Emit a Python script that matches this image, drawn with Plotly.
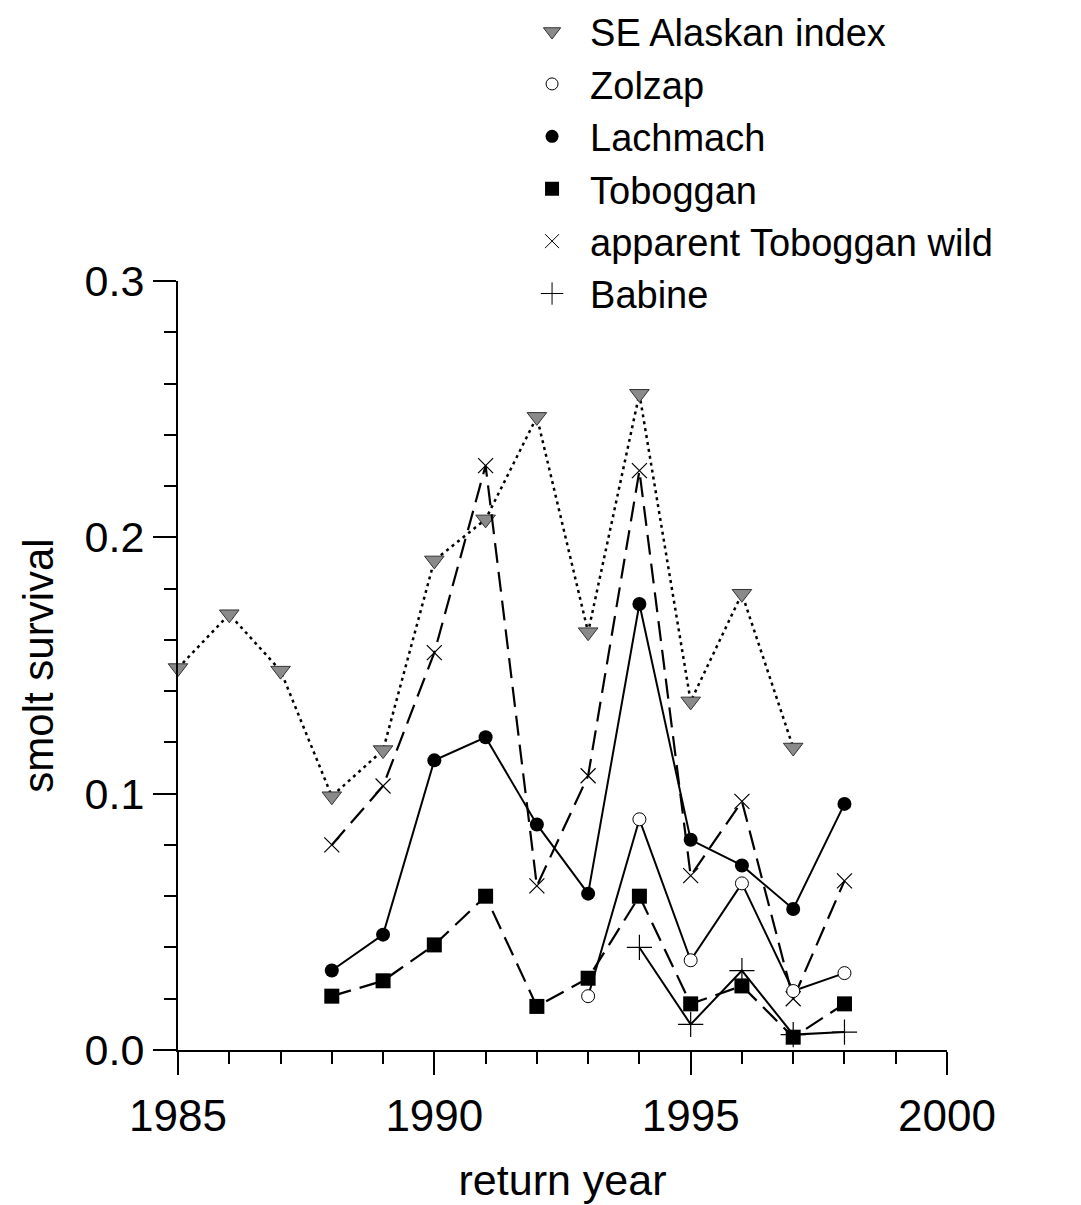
import plotly.graph_objects as go

# return years
se_years = [1985, 1986, 1987, 1988, 1989, 1990, 1991, 1992, 1993, 1994, 1995, 1996, 1997]
se_alaska = [0.149, 0.170, 0.148, 0.099, 0.117, 0.191, 0.207, 0.247, 0.163, 0.256, 0.136, 0.178, 0.118]

main_years = [1988, 1989, 1990, 1991, 1992, 1993, 1994, 1995, 1996, 1997, 1998]
tob_wild = [0.080, 0.103, 0.155, 0.228, 0.064, 0.107, 0.226, 0.068, 0.097, 0.020, 0.066]
lachmach = [0.031, 0.045, 0.113, 0.122, 0.088, 0.061, 0.174, 0.082, 0.072, 0.055, 0.096]
toboggan = [0.021, 0.027, 0.041, 0.060, 0.017, 0.028, 0.060, 0.018, 0.025, 0.005, 0.018]

zol_years = [1993, 1994, 1995, 1996, 1997, 1998]
zolzap = [0.021, 0.090, 0.035, 0.065, 0.023, 0.030]

bab_years = [1994, 1995, 1996, 1997, 1998]
babine = [0.040, 0.010, 0.031, 0.006, 0.007]

FONT = "Liberation Sans, Arial, sans-serif"

fig = go.Figure()

# data traces (legend drawn separately with marker-only entries)
fig.add_trace(go.Scatter(x=se_years, y=se_alaska, mode="lines+markers", showlegend=False,
                         line=dict(color="black", width=2.5, dash="3px,4px"),
                         marker=dict(symbol="triangle-down", size=17, color="#8a8a8a",
                                     line=dict(color="#333", width=1)),
                         cliponaxis=False))
fig.add_trace(go.Scatter(x=main_years, y=tob_wild, mode="lines+markers", showlegend=False,
                         line=dict(color="black", width=2.2, dash="20px,9px"),
                         marker=dict(symbol="x-thin", size=15, color="black",
                                     line=dict(color="black", width=1.2)),
                         cliponaxis=False))
fig.add_trace(go.Scatter(x=main_years, y=lachmach, mode="lines+markers", showlegend=False,
                         line=dict(color="black", width=2),
                         marker=dict(symbol="circle", size=14, color="black"),
                         cliponaxis=False))
fig.add_trace(go.Scatter(x=main_years, y=toboggan, mode="lines+markers", showlegend=False,
                         line=dict(color="black", width=2.2, dash="20px,9px"),
                         marker=dict(symbol="square", size=15, color="black"),
                         cliponaxis=False))
fig.add_trace(go.Scatter(x=zol_years, y=zolzap, mode="lines+markers", showlegend=False,
                         line=dict(color="black", width=2),
                         marker=dict(symbol="circle", size=13, color="white",
                                     line=dict(color="black", width=1)),
                         cliponaxis=False))
fig.add_trace(go.Scatter(x=bab_years, y=babine, mode="lines+markers", showlegend=False,
                         line=dict(color="black", width=2),
                         marker=dict(symbol="cross-thin", size=18, color="black",
                                     line=dict(color="black", width=1.2)),
                         cliponaxis=False))

# legend entries: markers only
legend_items = [
    ("SE Alaskan index", dict(symbol="triangle-down", size=15, color="#8a8a8a", line=dict(color="#333", width=1))),
    ("Zolzap", dict(symbol="circle", size=12, color="white", line=dict(color="black", width=1))),
    ("Lachmach", dict(symbol="circle", size=13, color="black")),
    ("Toboggan", dict(symbol="square", size=14, color="black")),
    ("apparent Toboggan wild", dict(symbol="x-thin", size=14, color="black", line=dict(color="black", width=1))),
    ("Babine", dict(symbol="cross-thin", size=16, color="black", line=dict(color="black", width=1))),
]
for name, mk in legend_items:
    fig.add_trace(go.Scatter(x=[None], y=[None], mode="markers", name=name, marker=mk))

# page body adds ~8px offset, so the figure is sized to fit inside the window
fig.update_layout(
    width=1073, height=1197,
    margin=dict(l=170, r=134, t=273, b=155, autoexpand=False),
    paper_bgcolor="white", plot_bgcolor="white",
    font=dict(family=FONT, color="black", size=42),
    legend=dict(x=0.437, y=1.365, xanchor="left", yanchor="top",
                font=dict(size=38, family=FONT), itemwidth=66,
                bgcolor="rgba(0,0,0,0)", tracegroupgap=0),
)
fig.update_xaxes(range=[1985, 2000], tickvals=[1985, 1990, 1995, 2000],
                 ticks="outside", ticklen=23, tickwidth=2, tickcolor="black",
                 showline=True, linewidth=2, linecolor="black",
                 showgrid=False, zeroline=False, automargin=False, ticklabelstandoff=3,
                 minor=dict(dtick=1, ticks="outside", ticklen=12, tickwidth=2, tickcolor="black"),
                 tickfont=dict(size=44), title=dict(text="return year", font=dict(size=43), standoff=26))
fig.update_yaxes(range=[0, 0.3], tickvals=[0, 0.1, 0.2, 0.3], tickformat=".1f",
                 ticks="outside", ticklen=23, tickwidth=2, tickcolor="black",
                 showline=True, linewidth=2, linecolor="black",
                 showgrid=False, zeroline=False, automargin=False,
                 minor=dict(dtick=0.02, ticks="outside", ticklen=12, tickwidth=2, tickcolor="black"),
                 tickfont=dict(size=43), title=dict(text="smolt survival", font=dict(size=42), standoff=18))

fig.write_html("out.html")
